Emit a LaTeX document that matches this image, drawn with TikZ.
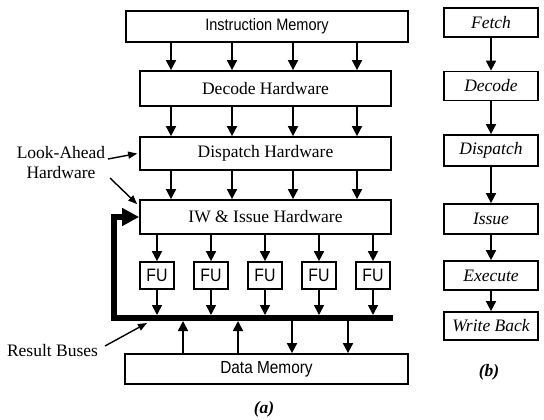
\documentclass[tikz,border=0pt]{standalone}
\usepackage{fontspec}
\setmainfont{Liberation Serif}
\newfontfamily\narrowsf[FakeStretch=0.88]{Liberation Sans}
\usetikzlibrary{arrows.meta}

\begin{document}
\begin{tikzpicture}[x=1pt,y=-1pt,
    box/.style={draw, line width=1.7pt, inner sep=0pt, font=\fontsize{17.5}{20}\selectfont},
    sfbox/.style={box, font=\narrowsf\fontsize{16.5}{20}\selectfont},
    stage/.style={box, minimum width=94, minimum height=29, font=\fontsize{17.5}{20}\selectfont\itshape},
    ptr/.style={line width=1.6pt, -{Triangle[length=10pt,width=10pt]}},
    thinptr/.style={line width=1.4pt, -{Triangle[length=9pt,width=7pt]}},
    bus/.style={line width=6pt, line join=miter, -{Triangle[length=17pt,width=17pt]}},
    lbl/.style={font=\fontsize{17.5}{20}\selectfont, align=center, inner sep=0pt}]
    \useasboundingbox (0,0) rectangle (544,420);
    %% (a) the machine
    \node[sfbox, minimum width=282, minimum height=31] (imem) at (267,26.5) {Instruction Memory};
    \node[box, minimum width=251, minimum height=35] (dec) at (265.5,88.5) {Decode Hardware};
    \node[box, minimum width=251, minimum height=33] (disp) at (265.5,153.5) {Dispatch Hardware};
    \node[box, minimum width=251, minimum height=34] (iw) at (265.5,217) {IW \& Issue Hardware};
    \foreach \x in {171,232,293,357} {
        \draw[ptr] (imem.south -| \x,0) -- (dec.north -| \x,0);
        \draw[ptr] (dec.south -| \x,0) -- (disp.north -| \x,0);
        \draw[ptr] (disp.south -| \x,0) -- (iw.north -| \x,0);
    }
    %% functional units
    \foreach \i/\x in {1/157,2/211,3/265,4/319,5/373} {
        \node[sfbox, font=\narrowsf\fontsize{18}{20}\selectfont, minimum width=34, minimum height=27] (fu\i) at (\x,275.5) {FU};
        \draw[ptr] (fu\i.north |- iw.south) -- (fu\i.north);
    }
    %% result buses
    \coordinate (busend) at (393,318);
    \coordinate (buscorner) at (114,318);
    \coordinate (bustop) at (114,315);
    \coordinate (busbot) at (114,321);
    \draw[bus] (busend) -- (buscorner) |- (iw.west);
    \foreach \i in {1,...,5}
        \draw[ptr] (fu\i.south) -- (fu\i.south |- bustop);
    \node[sfbox, font=\narrowsf\fontsize{17.5}{20}\selectfont, minimum width=283, minimum height=30] (dmem) at (266.5,369) {Data Memory};
    \foreach \x in {183,238}
        \draw[ptr] (dmem.north -| \x,0) -- (busbot -| \x,0);
    \foreach \x in {292,348}
        \draw[ptr] (busbot -| \x,0) -- (dmem.north -| \x,0);
    %% side labels
    \node[lbl] (lah) at (61,163) {Look-Ahead\\Hardware};
    \coordinate (la1) at (108,159);
    \coordinate (la2) at (110,178);
    \draw[thinptr] (la1) -- ([xshift=-2pt]disp.west);
    \draw[thinptr] (la2) -- ([xshift=-2pt,yshift=-5pt]iw.north west);
    \node[lbl] (rbus) at (52.5,351) {Result Buses};
    \coordinate (rb1) at (105,346);
    \coordinate (rb2) at (147,323);
    \draw[thinptr] (rb1) -- (rb2);
    \node[lbl, font=\fontsize{17.5}{20}\selectfont\bfseries\itshape] (capa) at (264,409) {(a)};
    %% (b) the stages
    \node[stage] (fetch) at (491,22.5) {Fetch};
    \node[stage] (sdec) at (491,86) {Decode};
    \node[stage, minimum height=31] (sdisp) at (491,150.5) {Dispatch};
    \node[stage, minimum height=30] (issue) at (491,219) {Issue};
    \node[stage] (exec) at (491,275.5) {Execute};
    \node[stage, minimum height=28] (wb) at (491,326) {Write Back};
    \draw[ptr] (fetch) -- (sdec);
    \draw[ptr] (sdec) -- (sdisp);
    \draw[ptr] (sdisp) -- (issue);
    \draw[ptr] (issue) -- (exec);
    \draw[ptr] (exec) -- (wb);
    \node[lbl, font=\fontsize{17.5}{20}\selectfont\bfseries\itshape] (capb) at (489,372) {(b)};
\end{tikzpicture}
\end{document}
